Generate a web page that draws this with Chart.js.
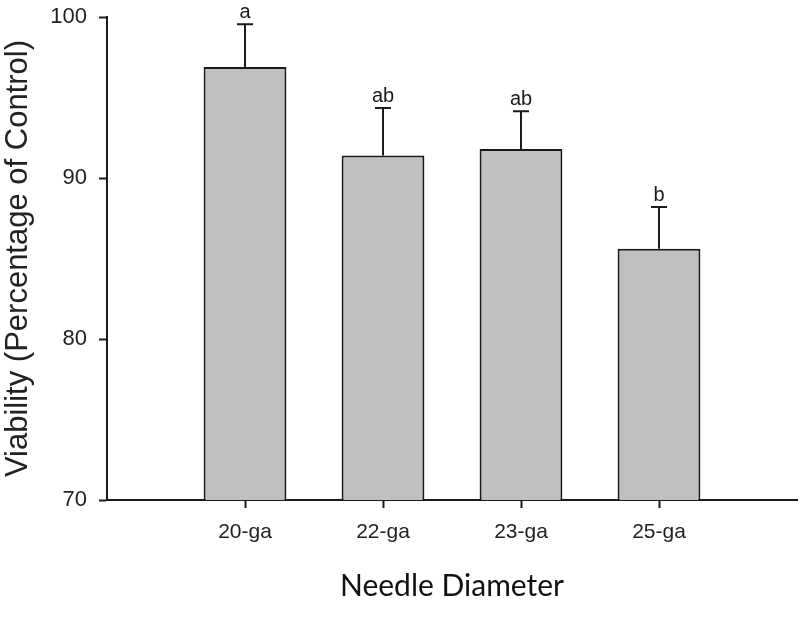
<!DOCTYPE html>
<html>
<head>
<meta charset="utf-8">
<script src="https://cdn.jsdelivr.net/npm/chart.js@4.4.1/dist/chart.umd.min.js"></script>
<style>
  html, body { margin: 0; padding: 0; background: #ffffff; }
  #wrap { width: 800px; height: 623px; position: relative; }
</style>
</head>
<body>
<div id="wrap"><canvas id="c"></canvas></div>
<script>
// ---- data ----
const categories = ['20-ga', '22-ga', '23-ga', '25-ga'];
const viability = [96.9, 91.4, 91.8, 85.6];
const errorsUp = [2.65, 2.95, 2.35, 2.6];
const groupLetters = ['a', 'ab', 'ab', 'b'];
const yTicks = [70, 80, 90, 100];

// empty slots at each end of the category axis
const labels = [''].concat(categories, ['']);
const barData = [null].concat(viability, [null]);
const errData = [null].concat(errorsUp, [null]);
const letterData = [null].concat(groupLetters, [null]);

const INK = '#1a1a1a';
const ARIAL = '"Liberation Sans", Arial, sans-serif';

const errorBarPlugin = {
  id: 'errorBars',
  afterDatasetsDraw(chart) {
    const ctx = chart.ctx;
    const meta = chart.getDatasetMeta(0);
    const y = chart.scales.y;
    ctx.save();
    ctx.strokeStyle = INK;
    ctx.lineWidth = 2;
    ctx.fillStyle = INK;
    ctx.font = '20px ' + ARIAL;
    ctx.textAlign = 'center';
    ctx.textBaseline = 'alphabetic';
    meta.data.forEach((bar, i) => {
      const v = barData[i];
      if (v === null || v === undefined) return;
      const xc = Math.round(bar.x);
      const yTop = y.getPixelForValue(v);
      const yErr = y.getPixelForValue(v + errData[i]);
      ctx.beginPath();
      ctx.moveTo(xc, yTop);
      ctx.lineTo(xc, yErr);
      ctx.moveTo(xc - 8, yErr);
      ctx.lineTo(xc + 8, yErr);
      ctx.stroke();
      ctx.fillText(letterData[i], xc, yErr - 6);
    });
    ctx.restore();
  }
};

new Chart(document.getElementById('c'), {
  type: 'bar',
  data: {
    labels: labels,
    datasets: [{
      data: barData,
      backgroundColor: '#c0c0c0',
      borderColor: INK,
      borderWidth: 2,
      categoryPercentage: 0.6,
      barPercentage: 1.0
    }]
  },
  options: {
    responsive: true,
    maintainAspectRatio: false,
    animation: false,
    layout: { padding: { top: 17, right: 3, left: 0, bottom: 0 } },
    plugins: {
      legend: { display: false },
      tooltip: { enabled: false }
    },
    scales: {
      x: {
        type: 'category',
        offset: false,
        grid: {
          display: true,
          offset: false,
          drawOnChartArea: false,
          drawTicks: true,
          tickLength: 8,
          tickWidth: 2,
          tickColor: (c) => (c.index === 0 || c.index === labels.length - 1) ? 'rgba(0,0,0,0)' : INK
        },
        border: { display: true, color: INK, width: 2 },
        ticks: {
          color: '#222222',
          font: { family: ARIAL, size: 21 },
          padding: 12,
          maxRotation: 0,
          autoSkip: false
        },
        title: {
          display: true,
          text: 'Needle Diameter',
          color: '#111111',
          font: { family: 'Lato, "Open Sans", sans-serif', size: 30 },
          padding: { top: 0, bottom: 19 }
        },
        afterFit: (s) => { s.height = 123; s.paddingLeft = 0; s.paddingRight = 0; }
      },
      y: {
        min: 70,
        max: 100,
        afterBuildTicks: (s) => { s.ticks = yTicks.map(v => ({ value: v })); },
        grid: {
          display: true,
          drawOnChartArea: false,
          drawTicks: true,
          tickLength: 8,
          tickWidth: 2,
          tickColor: INK
        },
        border: { display: true, color: INK, width: 2 },
        ticks: {
          color: '#222222',
          font: { family: ARIAL, size: 22 },
          padding: 12
        },
        title: {
          display: true,
          text: 'Viability (Percentage of Control)',
          color: '#222222',
          font: { family: ARIAL, size: 31 },
          padding: { top: 0, bottom: 0 }
        },
        afterFit: (s) => { s.width = 107; s.paddingTop = 0; s.paddingBottom = 0; }
      }
    }
  },
  plugins: [errorBarPlugin]
});
</script>
</body>
</html>
